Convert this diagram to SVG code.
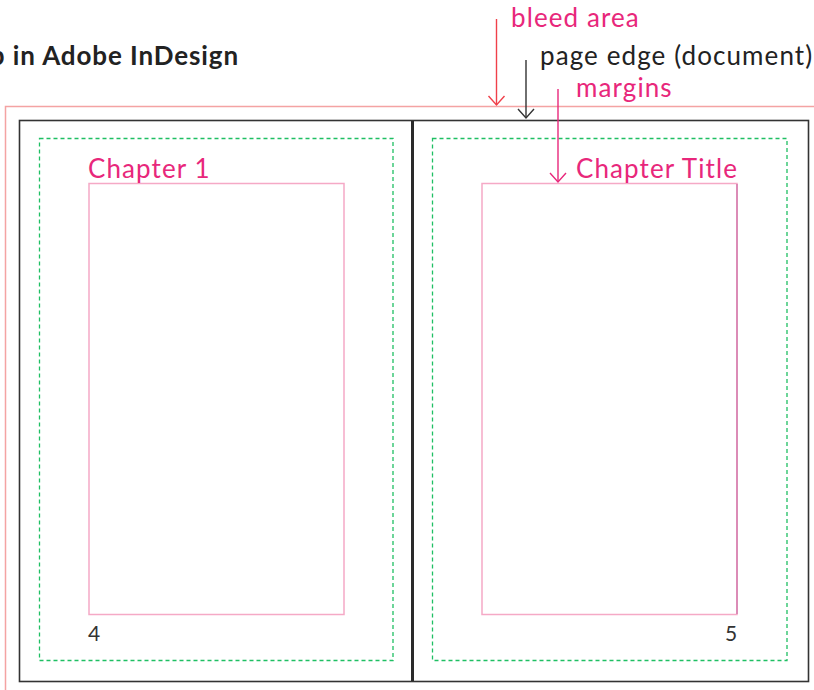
<svg xmlns="http://www.w3.org/2000/svg" width="814" height="690" viewBox="0 0 814 690">
<style>
.lbl{font-family:Lato,"Open Sans","Liberation Sans",sans-serif;font-size:26px;letter-spacing:1.1px}
.pink{fill:#e8277b}
.dark{fill:#222}
.title{font-family:Lato,"Open Sans","Liberation Sans",sans-serif;font-size:26px;font-weight:bold;letter-spacing:0.9px;fill:#222}
.num{font-family:Lato,"Open Sans","Liberation Sans",sans-serif;font-size:21px;fill:#333}
.margin{fill:none;stroke:#1fbf63;stroke-width:1.3;stroke-dasharray:4 3}
.frame{fill:none;stroke:#f5a9c6;stroke-width:1.5}
</style>
<rect width="814" height="690" fill="#fff"/>
<text class="title" x="239" y="65" text-anchor="end">p in Adobe InDesign</text>
<g id="bleed">
<rect x="5.5" y="106.5" width="820" height="600" fill="none" stroke="#f4a3a3" stroke-width="1.5"/>
</g>
<g id="page-edge">
<rect x="19.5" y="120.5" width="789" height="561" fill="none" stroke="#333" stroke-width="1.6"/>
<line x1="412.5" y1="121" x2="412.5" y2="681" stroke="#2a2a2a" stroke-width="3"/>
</g>
<g id="left-page">
<rect class="margin" x="39.5" y="138.5" width="353.5" height="522"/>
<rect class="frame" x="89" y="183.5" width="255" height="431"/>
<text class="lbl pink" x="88" y="178">Chapter 1</text>
<text class="num" x="88" y="641">4</text>
</g>
<g id="right-page">
<rect class="margin" x="432.5" y="138.5" width="354.5" height="522"/>
<rect class="frame" x="482" y="183.5" width="255" height="431"/>
<line x1="737" y1="184" x2="737" y2="614" stroke="#c05a9a" stroke-width="1"/>
<text class="lbl pink" x="576" y="178">Chapter Title</text>
<text class="num" x="725" y="641">5</text>
</g>
<g id="labels">
<text class="lbl pink" x="511" y="27">bleed area</text>
<text class="lbl dark" x="540" y="65">page edge (document)</text>
<text class="lbl pink" x="576" y="97">margins</text>
</g>
<g id="connectors" fill="none" stroke-width="1.4">
<g stroke="#f0404a"><line x1="496.5" y1="19" x2="496.5" y2="105"/><polyline points="488.5,96 496.5,105 504.5,96"/></g>
<g stroke="#333"><line x1="526" y1="60" x2="526" y2="118"/><polyline points="518,109 526,118 534,109"/></g>
<g stroke="#e8277b"><line x1="558" y1="89" x2="558" y2="182"/><polyline points="550,173 558,182 566,173"/></g>
</g>
</svg>
